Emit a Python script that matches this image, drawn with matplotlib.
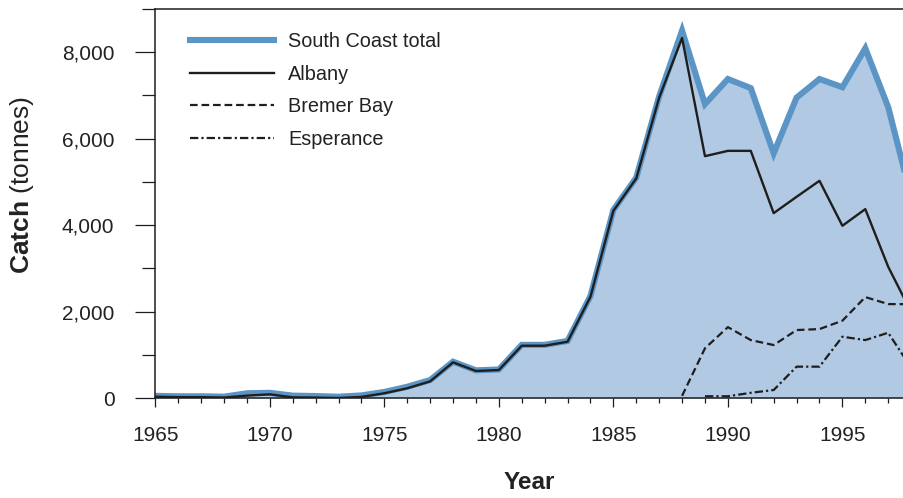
import matplotlib
matplotlib.use("Agg")
import matplotlib.pyplot as plt
from matplotlib.ticker import MultipleLocator, FuncFormatter

plt.rcParams['font.family'] = ['Liberation Sans', 'DejaVu Sans']
plt.rcParams['mathtext.fontset'] = 'custom'
plt.rcParams['mathtext.bf'] = 'Liberation Sans:bold'
plt.rcParams['mathtext.rm'] = 'Liberation Sans'
plt.rcParams['lines.scale_dashes'] = False

years = list(range(1965, 1999))
total = [50, 40, 40, 30, 110, 120, 55, 45, 30, 60, 140, 260, 415, 840, 640, 660,
         1230, 1230, 1320, 2360, 4350, 5100, 6980, 8500, 6800, 7380, 7170, 5660,
         6950, 7380, 7190, 8090, 6730, 4650]
albany = [30, 20, 20, 10, 55, 85, 15, 10, 0, 25, 110, 225, 385, 825, 625, 647,
          1210, 1210, 1302, 2343, 4331, 5080, 6950, 8330, 5595, 5718, 5718, 4277,
          4655, 5025, 3985, 4370, 3036, 1990]
bremer_years = list(range(1988, 1999))
bremer = [50, 1150, 1640, 1340, 1225, 1572, 1595, 1788, 2335, 2173, 2170]
esp_years = list(range(1989, 1999))
esperance = [40, 40, 120, 185, 725, 725, 1418, 1340, 1510, 700]

fill_color = '#b2c9e3'
line_blue = '#5b95c6'
ink = '#1e1e1e'
txt = '#222222'

fig = plt.figure(figsize=(9.04, 4.98), dpi=100)
ax = fig.add_axes([155.3 / 904, 100 / 498, 1 - 155.3 / 904, 389 / 498])

ax.fill_between(years, 0, total, color=fill_color, lw=0, zorder=1)
ax.plot(years, total, color=line_blue, lw=4.4, solid_joinstyle='miter',
        label='South Coast total', zorder=2)
ax.plot(years, albany, color=ink, lw=1.7, label='Albany', zorder=3)
ax.plot(bremer_years, bremer, color=ink, lw=1.6, dashes=(5.5, 2.8),
        label='Bremer Bay', zorder=3)
ax.plot(esp_years, esperance, color=ink, lw=1.6, dashes=(6, 2.2, 1.6, 2.2),
        label='Esperance', zorder=3)

ax.set_xlim(1965, 1997.69)
ax.set_ylim(0, 9000)

ax.spines['right'].set_visible(False)
for s in ['left', 'top', 'bottom']:
    ax.spines[s].set_linewidth(1.1)
    ax.spines[s].set_color(ink)

ax.xaxis.set_major_locator(MultipleLocator(5))
ax.xaxis.set_minor_locator(MultipleLocator(1))
ax.yaxis.set_major_locator(MultipleLocator(2000))
ax.yaxis.set_minor_locator(MultipleLocator(1000))
ax.yaxis.set_major_formatter(FuncFormatter(lambda v, p: f"{int(v):,}"))

ax.tick_params(axis='x', which='major', direction='out', length=6.5, width=0.9,
               color=ink, labelsize=15, labelcolor=txt, pad=14)
ax.tick_params(axis='x', which='minor', direction='out', length=3.6, width=0.9, color=ink)
ax.tick_params(axis='y', which='major', direction='out', length=14.4, width=0.9,
               color=ink, labelsize=15, labelcolor=txt, pad=15)
ax.tick_params(axis='y', which='minor', direction='out', length=9.4, width=0.9, color=ink)

ax.set_xlabel('Year', fontsize=17.5, fontweight='bold', color=txt, labelpad=18.5)
ax.set_ylabel(r'$\mathbf{Catch}$ (tonnes)', fontsize=19, color=txt)
ax.yaxis.label.set_va('center')
ax.yaxis.set_label_coords((22.5 - 155.3) / 748.7, (398 - 185) / 389)

leg = ax.legend(loc='upper left', bbox_to_anchor=(35 / 748.7, 1 - 23 / 389),
                frameon=False, fontsize=14.3, handlelength=4.22, handletextpad=0.7,
                labelspacing=0.68, borderpad=0, borderaxespad=0)
for t in leg.get_texts():
    t.set_color(txt)

fig.savefig('out.png', dpi=100)
